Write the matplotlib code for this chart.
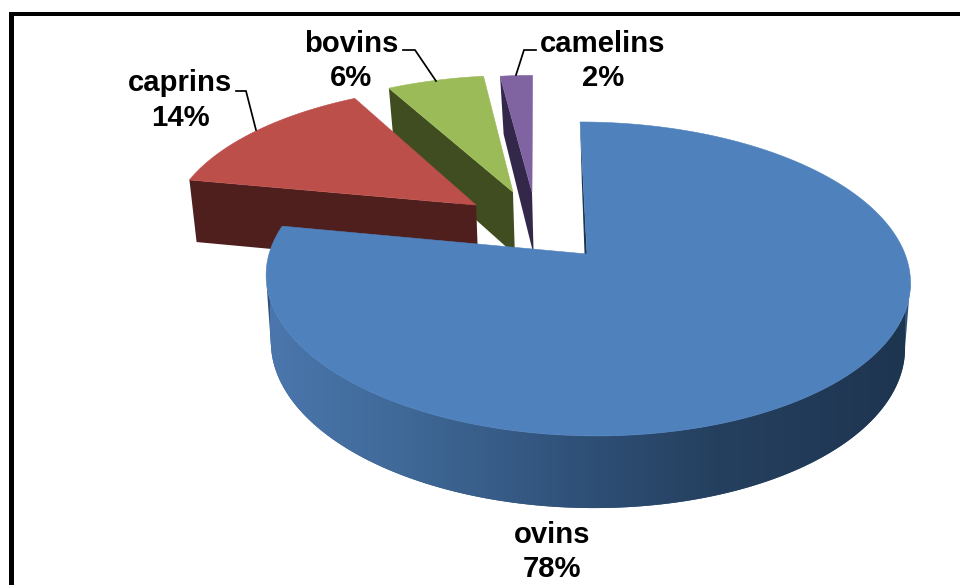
import numpy as np
import matplotlib
matplotlib.use("Agg")
import matplotlib.pyplot as plt
from matplotlib.colors import LinearSegmentedColormap
from matplotlib.patches import Polygon, Rectangle

categories = ["ovins", "caprins", "bovins", "camelins"]
values = [78, 14, 6, 2]

top_colors = ["#4f81bd", "#bd4f4b", "#9bbb59", "#8064a2"]
wall_colors = ["#1e3550", "#4f1f1e", "#3f4d20", "#33284a"]
explode = [(0.0, 0.0), (-0.359, 0.337), (-0.238, 0.433), (-0.174, 0.433)]
label_pos = [(552, 552), (180, 100.5), (351, 61), (603, 61)]
leaders = [None,
           [(236, 91), (246, 91), (256, 130)],
           [(403, 50), (415, 50), (436, 81)],
           [(536, 50), (524, 50), (516, 75)]]

# projection of the pie plane (perspective view)
K = 0.159
CX, CY = 587.0, 254.0


def top_plane(x, v):
    d = 1 + K * v
    return CX + (318 * x - 8 * v) / d, CY - 153 * v / d


def bottom_plane(x, v):
    d = 1 + K * v
    return CX + (313 * x - 6 * v) / d, CY + 65 - 159 * v / d


def rim(t0, t1, off, n=240):
    t = np.radians(np.linspace(t0, t1, n))
    return off[0] + np.sin(t), off[1] + np.cos(t)


plt.rcParams["font.family"] = ["Liberation Sans", "DejaVu Sans"]
fig = plt.figure(figsize=(9.6, 5.85), dpi=100)
ax = fig.add_axes([0, 0, 1, 1])

ax.add_patch(Rectangle((9, 12), 951, 3.6, fc="black", ec="none"))
ax.add_patch(Rectangle((9, 12), 5.2, 573, fc="black", ec="none"))

fracs = np.array(values) / sum(values) * 360
starts = np.concatenate([[0], np.cumsum(fracs)[:-1]])

side_cmap = LinearSegmentedColormap.from_list(
    "side", [(0, "#4a76ad"), (0.22, "#3f6896"), (0.47, "#30527a"),
             (0.7, "#25405f"), (1, "#1e3550")])

# exploded slices, back to front, then the big slice
for i in [3, 2, 1, 0]:
    t0, t1 = starts[i], starts[i] + fracs[i]
    off = explode[i]
    rx, rv = rim(t0, t1, off)
    tx, ty = top_plane(rx, rv)
    z = 2 + 3 - i
    px, pv = off
    if i == 0:
        # front of the drum: smooth shading, clipped to the visible wall
        sx, sv = rim(100, 260, off)
        stx, sty = top_plane(sx, sv)
        sbx, sby = bottom_plane(sx, sv)
        outline = np.vstack([np.column_stack([stx, sty]),
                             np.column_stack([sbx, sby])[::-1]])
        base = Polygon(outline, fc="#30527a", ec="none", zorder=z)
        ax.add_patch(base)
        grad = np.linspace(0, 1, 635)[None, :]
        im = ax.imshow(grad, cmap=side_cmap, extent=(270, 905, 585, 0),
                       aspect="auto", zorder=z + 0.1, interpolation="bilinear")
        im.set_clip_path(base)
        # thin inner wall at the first edge
        ax.add_patch(Polygon([(tx[0], ty[0]), bottom_plane(rx[0], rv[0]),
                              bottom_plane(px, pv), top_plane(px, pv)],
                             fc=wall_colors[i], ec="none", zorder=z + 0.2))
    else:
        # visible radial wall at the first edge of the slice
        ax.add_patch(Polygon([(tx[0], ty[0]), top_plane(px, pv),
                              bottom_plane(px, pv), bottom_plane(rx[0], rv[0])],
                             fc=wall_colors[i], ec="none", zorder=z))
    apex = top_plane(px, pv)
    ax.add_patch(Polygon(np.vstack([np.column_stack([tx, ty]), apex]),
                         fc=top_colors[i], ec=top_colors[i], lw=0.4, zorder=z + 0.5))

for i, name in enumerate(categories):
    ax.text(label_pos[i][0], label_pos[i][1], f"{name}\n{values[i]}%",
            ha="center", va="center", fontsize=21.1, fontweight="bold",
            color="black", linespacing=1.3, zorder=10)
    if leaders[i]:
        ax.plot(*zip(*leaders[i]), color="black", lw=1.25, zorder=9,
                solid_joinstyle="miter")

ax.set_xlim(0, 960)
ax.set_ylim(585, 0)
ax.axis("off")

fig.savefig("out.png", dpi=100)
